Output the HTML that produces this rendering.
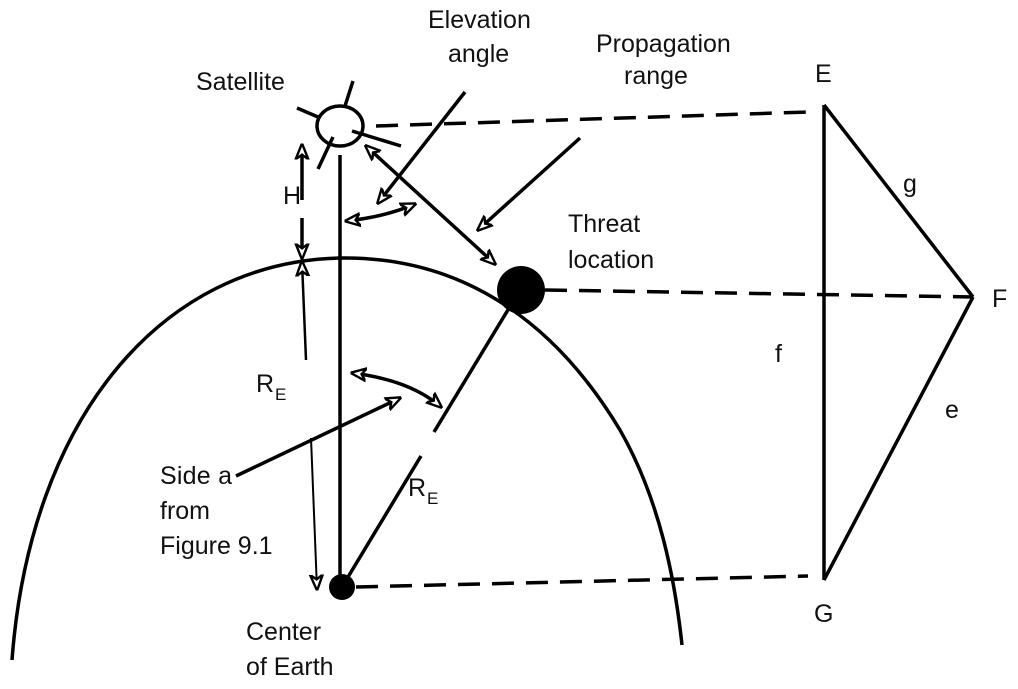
<!DOCTYPE html>
<html><head><meta charset="utf-8"><style>
html,body{margin:0;padding:0;background:#fff;}
svg{display:block}
text{font-family:"Liberation Sans","DejaVu Sans",sans-serif;font-size:25px;fill:#111}
</style></head><body>
<svg width="1018" height="689" viewBox="0 0 1018 689" xmlns="http://www.w3.org/2000/svg">
<defs>
<marker id="b" viewBox="0 0 10 10" refX="9" refY="5" markerWidth="16" markerHeight="16" orient="auto-start-reverse" markerUnits="userSpaceOnUse"><path d="M0,1 L10,5 L0,9 L3,5 z" fill="#fff" stroke="#000" stroke-width="1.5"/></marker>
</defs>
<g stroke="#000" fill="none" stroke-width="3.5">
<path d="M12,660 C30,420 160,262 340,258 C470,256 560,330 620,430 C660,500 675,580 682,645" />
<ellipse cx="340" cy="126" rx="23" ry="20"/>
<line x1="297" y1="108" x2="318" y2="117"/>
<line x1="345" y1="106" x2="353" y2="81"/>
<line x1="352" y1="131" x2="401" y2="146"/>
<line x1="333" y1="137" x2="318" y2="169"/>
<line x1="340" y1="155" x2="340" y2="587"/>
<g stroke-dasharray="22,12">
<line x1="376" y1="126" x2="808" y2="112"/>
<line x1="545" y1="290" x2="973" y2="297"/>
<line x1="356" y1="587" x2="808" y2="576"/>
</g>
<line x1="824" y1="105" x2="824" y2="580"/>
<line x1="824" y1="105" x2="973" y2="297"/>
<line x1="973" y1="297" x2="824" y2="580"/>
<line x1="342" y1="587" x2="421" y2="456"/>
<line x1="434" y1="432" x2="520" y2="290"/>
<line x1="302" y1="200" x2="302" y2="145" marker-end="url(#b)"/>
<line x1="302" y1="218" x2="302" y2="258" marker-end="url(#b)"/>
<line x1="306" y1="360" x2="302" y2="262" stroke-width="2.5" marker-end="url(#b)"/>
<line x1="366" y1="146" x2="495" y2="264" marker-start="url(#b)" marker-end="url(#b)"/>
<path d="M346,221 Q385,217 415,204" marker-start="url(#b)" marker-end="url(#b)"/>
<line x1="465" y1="92" x2="378" y2="203" marker-end="url(#b)"/>
<line x1="580" y1="138" x2="478" y2="230" marker-end="url(#b)"/>
<path d="M352,373 Q410,380 441,407" marker-start="url(#b)" marker-end="url(#b)"/>
<line x1="236" y1="476" x2="400" y2="398" marker-end="url(#b)"/>
<line x1="311" y1="438" x2="317" y2="589" stroke-width="2" marker-end="url(#b)"/>
</g>
<circle cx="521" cy="290" r="24" fill="#000"/>
<circle cx="342" cy="587" r="13" fill="#000"/>
<text x="196" y="90">Satellite</text>
<text x="428" y="28">Elevation</text>
<text x="448" y="62">angle</text>
<text x="596" y="52">Propagation</text>
<text x="624" y="84">range</text>
<text x="568" y="232">Threat</text>
<text x="568" y="268">location</text>
<text x="283" y="204">H</text>
<text x="256" y="392">R</text><text x="275" y="400" style="font-size:17px">E</text>
<text x="408" y="496">R</text><text x="427" y="504" style="font-size:17px">E</text>
<text x="160" y="484" textLength="72">Side a</text>
<text x="160" y="519">from</text>
<text x="160" y="554">Figure 9.1</text>
<text x="246" y="640">Center</text>
<text x="246" y="675">of Earth</text>
<text x="815" y="82">E</text>
<text x="903" y="192">g</text>
<text x="992" y="307">F</text>
<text x="775" y="362">f</text>
<text x="945" y="418">e</text>
<text x="814" y="622">G</text>
</svg>
</body></html>
